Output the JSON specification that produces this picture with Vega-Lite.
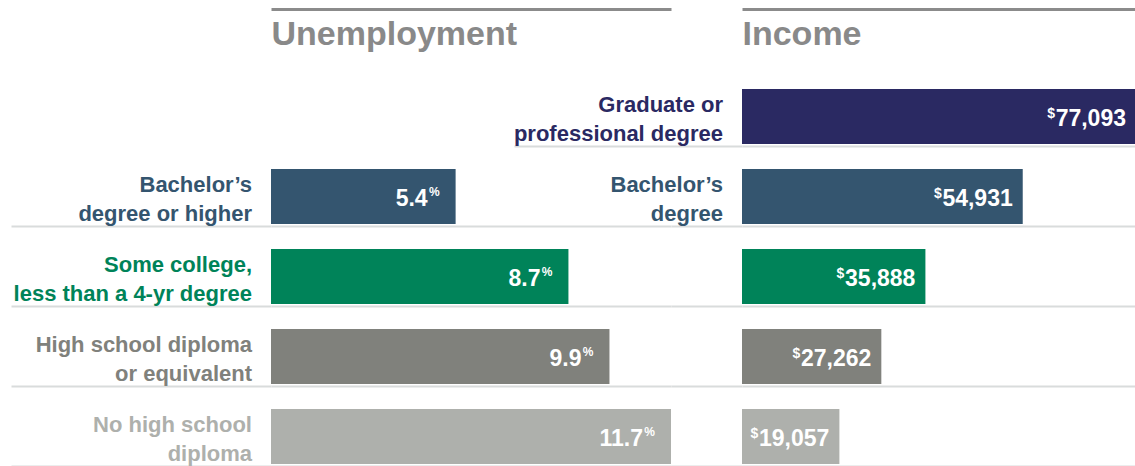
{
  "$schema": "https://vega.github.io/schema/vega-lite/v6.json",
  "padding": {"left": 10, "top": 9, "right": 0, "bottom": 0},
  "bounds": "flush",
  "spacing": 71,
  "background": "white",
  "config": {"view": {"stroke": null}},
  "datasets": {
    "edu": [
      {"key": "grad", "label_u": "", "label_i": "Graduate or\nprofessional degree", "unemp": null, "income": 77093},
      {"key": "bach", "label_u": "Bachelor’s\ndegree or higher", "label_i": "Bachelor’s\ndegree", "unemp": 5.4, "income": 54931},
      {"key": "some", "label_u": "Some college,\nless than a 4-yr degree", "label_i": "", "unemp": 8.7, "income": 35888},
      {"key": "hs", "label_u": "High school diploma\nor equivalent", "label_i": "", "unemp": 9.9, "income": 27262},
      {"key": "nohs", "label_u": "No high school\ndiploma", "label_i": "", "unemp": 11.7, "income": 19057}
    ]
  },
  "hconcat": [
    {
      "width": 400,
      "height": 375,
      "data": {"name": "edu"},
      "transform": [{"filter": "datum.unemp != null"}],
      "encoding": {
        "y": {
          "field": "key", "type": "nominal",
          "scale": {"domain": ["grad", "bach", "some", "hs", "nohs"], "paddingInner": 0.3125, "paddingOuter": 0},
          "axis": {
            "title": null, "labels": false, "domain": false,
            "ticks": true, "tickSize": 260, "tickColor": "#d9dcdc", "tickWidth": 2,
            "grid": true, "gridColor": "#d9dcdc", "gridWidth": 2,
            "bandPosition": 1, "tickOffset": 1.5,
            "tickOpacity": {"condition": {"test": "datum.value === 'grad'", "value": 0}, "value": 1},
            "gridOpacity": {"condition": {"test": "datum.value === 'grad'", "value": 0}, "value": 1}
          }
        }
      },
      "layer": [
        {
          "mark": {"type": "bar"},
          "encoding": {
            "x": {
              "field": "unemp", "type": "quantitative",
              "scale": {"domain": [0, 11.7], "nice": false},
              "axis": {
                "orient": "top", "offset": 80, "domain": true, "domainColor": "#8b8b8b", "domainWidth": 3,
                "ticks": false, "labels": false, "grid": false,
                "title": "Unemployment", "titleFont": "Liberation Sans", "titleFontSize": 34, "titleFontWeight": "bold",
                "titleColor": "#898989", "titleAnchor": "start", "titleAlign": "left", "titleBaseline": "alphabetic",
                "titleX": 0, "titleY": 35, "titlePadding": 0
              }
            },
            "color": {
              "field": "key", "type": "nominal", "legend": null,
              "scale": {"domain": ["grad", "bach", "some", "hs", "nohs"], "range": ["#2a2962", "#34556f", "#008359", "#80817c", "#aeb0ac"]}
            }
          }
        },
        {
          "mark": {"type": "text", "align": "right", "baseline": "middle", "dx": -19, "dy": -12, "fontSize": 22, "fontWeight": "bold", "lineHeight": 29, "lineBreak": "\n", "font": "Liberation Sans"},
          "encoding": {
            "x": {"datum": 0, "type": "quantitative"},
            "text": {"field": "label_u"},
            "color": {"field": "key", "type": "nominal", "legend": null}
          }
        },
        {
          "mark": {"type": "text", "align": "right", "baseline": "alphabetic", "dx": -28, "dy": 9, "fontSize": 23, "fontWeight": "bold", "font": "Liberation Sans", "color": "white"},
          "encoding": {
            "x": {"field": "unemp", "type": "quantitative"},
            "text": {"field": "unemp", "format": ".1f"}
          }
        },
        {
          "mark": {"type": "text", "align": "right", "baseline": "alphabetic", "dx": -16, "dy": -1, "fontSize": 12, "fontWeight": "bold", "font": "Liberation Sans", "color": "white"},
          "encoding": {
            "x": {"field": "unemp", "type": "quantitative"},
            "text": {"value": "%"}
          }
        }
      ]
    },
    {
      "width": 394,
      "height": 375,
      "data": {"name": "edu"},
      "encoding": {
        "y": {
          "field": "key", "type": "nominal",
          "scale": {"domain": ["grad", "bach", "some", "hs", "nohs"], "paddingInner": 0.3125, "paddingOuter": 0},
          "axis": {
            "title": null, "labels": false, "domain": false,
            "ticks": true, "tickColor": "#d9dcdc", "tickWidth": 2,
            "tickSize": {"condition": {"test": "datum.value === 'grad'", "value": 228}, "value": 71},
            "grid": true, "gridColor": "#d9dcdc", "gridWidth": 2,
            "bandPosition": 1, "tickOffset": 1.5
          }
        }
      },
      "layer": [
        {
          "mark": {"type": "bar"},
          "encoding": {
            "x": {
              "field": "income", "type": "quantitative",
              "scale": {"domain": [0, 77093], "nice": false},
              "axis": {
                "orient": "top", "offset": 80, "domain": true, "domainColor": "#8b8b8b", "domainWidth": 3,
                "ticks": false, "labels": false, "grid": false,
                "title": "Income", "titleFont": "Liberation Sans", "titleFontSize": 34, "titleFontWeight": "bold",
                "titleColor": "#898989", "titleAnchor": "start", "titleAlign": "left", "titleBaseline": "alphabetic",
                "titleX": 0, "titleY": 35, "titlePadding": 0
              }
            },
            "color": {
              "field": "key", "type": "nominal", "legend": null,
              "scale": {"domain": ["grad", "bach", "some", "hs", "nohs"], "range": ["#2a2962", "#34556f", "#008359", "#80817c", "#aeb0ac"]}
            }
          }
        },
        {
          "mark": {"type": "text", "align": "right", "baseline": "middle", "dx": -19, "dy": -12, "fontSize": 22, "fontWeight": "bold", "lineHeight": 29, "lineBreak": "\n", "font": "Liberation Sans"},
          "encoding": {
            "x": {"datum": 0, "type": "quantitative"},
            "text": {"field": "label_i"},
            "color": {"field": "key", "type": "nominal", "legend": null}
          }
        },
        {
          "mark": {"type": "text", "align": "right", "baseline": "alphabetic", "dx": -10, "dy": 9, "fontSize": 23, "fontWeight": "bold", "font": "Liberation Sans", "color": "white"},
          "encoding": {
            "x": {"field": "income", "type": "quantitative"},
            "text": {"field": "income", "format": ",d"}
          }
        },
        {
          "mark": {"type": "text", "align": "right", "baseline": "alphabetic", "dx": -81, "dy": 1.5, "fontSize": 14, "fontWeight": "bold", "font": "Liberation Sans", "color": "white"},
          "encoding": {
            "x": {"field": "income", "type": "quantitative"},
            "text": {"value": "$"}
          }
        }
      ]
    }
  ]
}
